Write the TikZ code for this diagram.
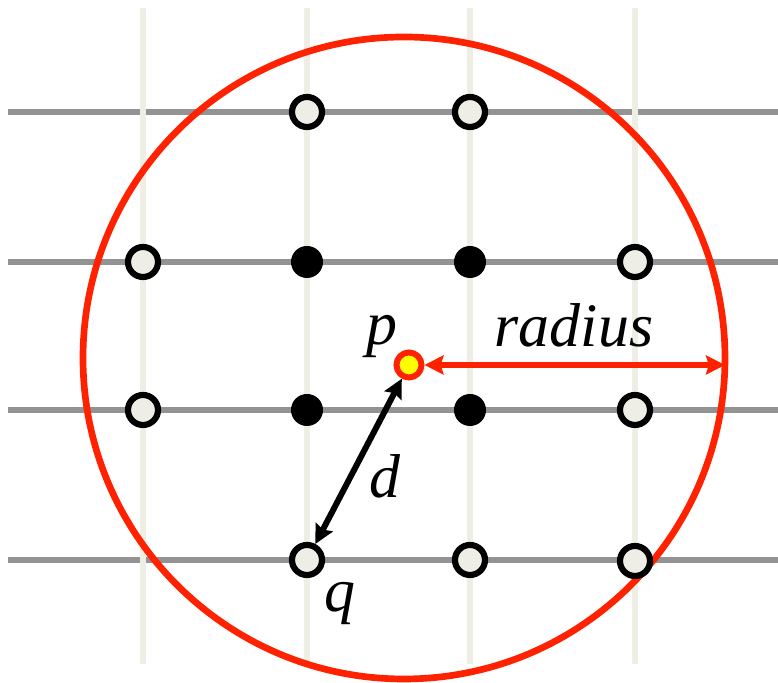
\documentclass[tikz,border=0pt]{standalone}
\usepackage{fontspec}
\newfontfamily\lblfont{Liberation Serif}[UprightFont={* Italic}]
\usetikzlibrary{arrows.meta}
\definecolor{rowgray}{HTML}{939393}
\definecolor{colcream}{HTML}{EEEEE4}
\definecolor{ringred}{HTML}{FF2200}
\definecolor{dotfill}{HTML}{EEEEE6}
\definecolor{pyellow}{HTML}{FFFF00}
\tikzset{
  rowline/.style={draw=rowgray, line width=1.8pt},
  colline/.style={draw=colcream, line width=1.9pt},
  ring/.style={draw=ringred, line width=1.9pt},
  hollow/.style={circle, draw=black, fill=dotfill, line width=1.75pt, inner sep=0pt, minimum size=0.30cm},
  solid/.style={circle, fill=black, inner sep=0pt, minimum size=0.32cm},
  query/.style={circle, draw=ringred, fill=pyellow, line width=1.7pt, inner sep=0pt, minimum size=0.25cm},
  rarc/.style={{Stealth[length=5.4pt, width=5.4pt, inset=0.8pt]}-{Stealth[length=5.4pt, width=5.4pt, inset=0.8pt]}, draw=ringred, line width=1.7pt},
  darc/.style={{Stealth[length=5.4pt, width=5.4pt, inset=0.8pt]}-{Stealth[length=5.4pt, width=5.4pt, inset=0.8pt]}, draw=black, line width=1.7pt},
  lbl/.style={font=\lblfont\fontsize{17.6}{20}\selectfont, inner sep=0pt, anchor=base},
}

\begin{document}
\begin{tikzpicture}[x=0.01cm,y=-0.01cm]
  \useasboundingbox (0,0) rectangle (778,683);
  % rows and columns
  \draw[rowline] (8,112) -- (778,112);
  \draw[rowline] (8,262) -- (778,262);
  \draw[rowline] (8,410) -- (778,410);
  \draw[rowline] (8,560) -- (778,560);
  \draw[colline] (143,8) -- (143,664);
  \draw[colline] (307,8) -- (307,664);
  \draw[colline] (470,8) -- (470,664);
  \draw[colline] (635,8) -- (635,664);
  % search circle
  \draw[ring] (404,358) circle (321);
  \coordinate (rim) at (725,365);
  % lattice points
  \node[hollow] (n21) at (307,112) {};
  \node[hollow] (n31) at (470,112) {};
  \node[hollow] (n12) at (143,262) {};
  \node[solid]  (n22) at (307,262) {};
  \node[solid]  (n32) at (470,262) {};
  \node[hollow] (n42) at (635,262) {};
  \node[hollow] (n13) at (143,410) {};
  \node[solid]  (n23) at (307,410) {};
  \node[solid]  (n33) at (470,410) {};
  \node[hollow] (n43) at (635,410) {};
  \node[hollow] (q)   at (307,560) {};
  \node[hollow] (n34) at (470,560) {};
  \node[hollow] (n44) at (635,561) {};
  \node[query]  (p)   at (409,365) {};
  % arrows
  \draw[rarc] (p) -- (rim);
  \draw[darc] (p) -- (q);
  % labels
  \node[lbl] (plbl) at (382,345) {p};
  \node[lbl] (rlbl) at (574,347) {radius};
  \node[lbl] (dlbl) at (385,498) {d};
  \node[lbl] (qlbl) at (340,612) {q};
\end{tikzpicture}
\end{document}
